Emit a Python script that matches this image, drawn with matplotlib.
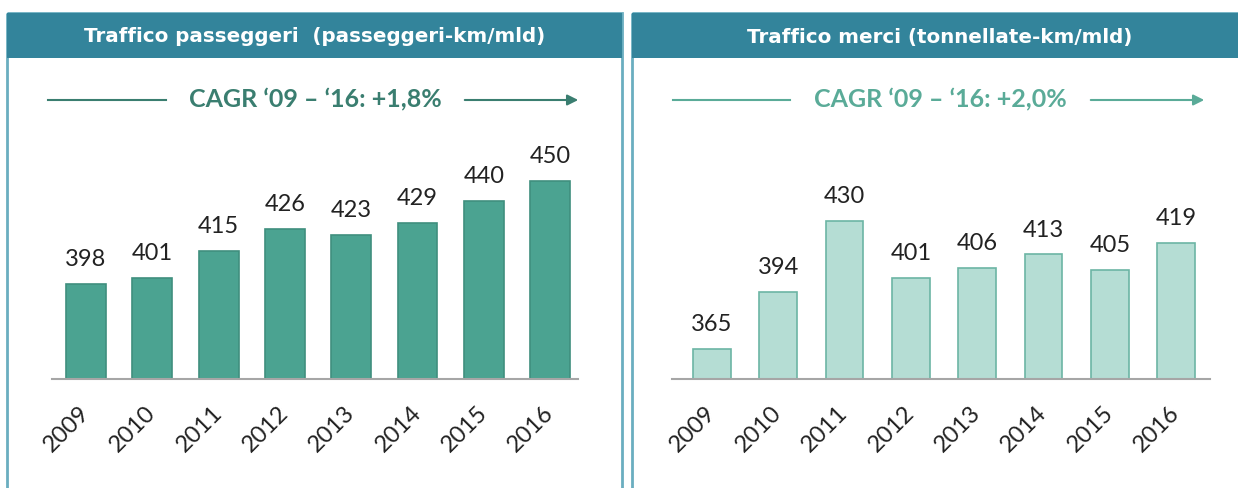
import matplotlib
matplotlib.use("Agg")
import matplotlib.pyplot as plt
from matplotlib.patches import Rectangle

# Dati
anni = ["2009", "2010", "2011", "2012", "2013", "2014", "2015", "2016"]
passeggeri = [398, 401, 415, 426, 423, 429, 440, 450]
merci = [365, 394, 430, 401, 406, 413, 405, 419]
titoli = ["Traffico passeggeri  (passeggeri-km/mld)",
          "Traffico merci (tonnellate-km/mld)"]
cagr = ["CAGR \u201809 \u2013 \u201816: +1,8%", "CAGR \u201809 \u2013 \u201816: +2,0%"]

W, H = 1238, 488
fig = plt.figure(figsize=(W / 100, H / 100), dpi=100)
plt.rcParams['font.family'] = ['Lato', 'DejaVu Sans']

# sfondo in coordinate pixel
bg = fig.add_axes([0, 0, 1, 1])
bg.set_xlim(0, W)
bg.set_ylim(H, 0)
bg.axis("off")

header_col = "#33849b"
border_col = "#6aaec0"
cagr_col = ["#3a7e70", "#5aab98"]

pannelli = [(7, 622), (632, 1245)]
centri = [315, 940]
for i, (x0, x1) in enumerate(pannelli):
    bg.add_patch(Rectangle((x0, 13), x1 - x0, H, fill=False, ec=border_col, lw=2))
    bg.add_patch(Rectangle((x0, 13), x1 - x0, 45, color=header_col, lw=0))
    bg.text(centri[i], 37, titoli[i], color="white", fontsize=14.3, fontweight="bold",
            family="DejaVu Sans", ha="center", va="center")

# linee CAGR
cagr_pos = [(48, 166, 315, 462, 581), (673, 790, 940, 1088, 1207)]
for i, (a0, a1, tx, b0, b1) in enumerate(cagr_pos):
    c = cagr_col[i]
    bg.plot([a0, a1], [100, 100], color=c, lw=1.5)
    bg.annotate("", xy=(b1, 100), xytext=(b0, 100),
                arrowprops=dict(arrowstyle="-|>", color=c, lw=1.5, mutation_scale=16))
    bg.text(tx, 100, cagr[i], color=c, fontsize=18, fontweight="bold",
            ha="center", va="center")

# grafici a barre
def grafico(px0, px1, xl, valori, fc, ec, bw):
    ax = fig.add_axes([px0 / W, (H - 379) / H, (px1 - px0) / W, (379 - 130) / H])
    x = range(len(anni))
    bars = ax.bar(x, valori, width=bw, color=fc, edgecolor=ec, lw=1.2)
    ax.set_xlim(*xl)
    ax.set_ylim(350, 476)
    for s in ["top", "right", "left"]:
        ax.spines[s].set_visible(False)
    ax.spines["bottom"].set_color("#a6a6a6")
    ax.spines["bottom"].set_linewidth(1.5)
    ax.set_yticks([])
    ax.set_xticks(list(x))
    ax.set_xticklabels(anni, rotation=45, ha="right", va="center",
                       rotation_mode="anchor", fontsize=17, color="#222222")
    ax.tick_params(axis="x", length=0, pad=22)
    for b, v in zip(bars, valori):
        ax.annotate(str(v), (b.get_x() + b.get_width() / 2, v),
                    xytext=(0, 10), textcoords="offset points",
                    ha="center", va="bottom", fontsize=17, color="#222222")
    ax.patch.set_alpha(0)
    return ax

grafico(52, 578, (-0.513, 7.42), passeggeri, "#4ba391", "#3f8f7e", 0.6)
grafico(672, 1210, (-0.60, 7.51), merci, "#b5ddd4", "#6cb5a4", 0.57)

fig.savefig("out.png", dpi=100)
